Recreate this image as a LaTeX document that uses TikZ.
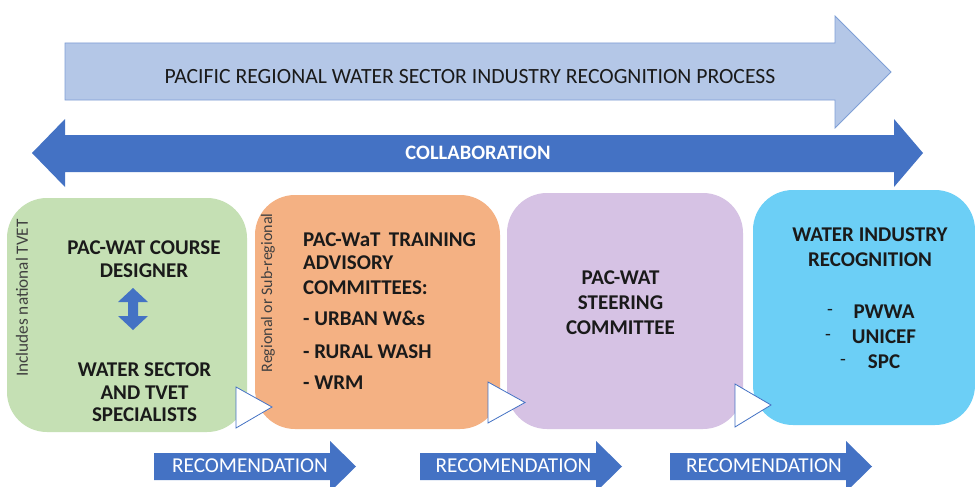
\documentclass[tikz,border=0pt]{standalone}
\usepackage{fontspec}
\setmainfont{Carlito}
\definecolor{toparrow}{HTML}{B4C7E7}
\definecolor{toparrowline}{HTML}{7F9FD6}
\definecolor{darkblue}{HTML}{4472C4}
\definecolor{greenbox}{HTML}{C5E0B4}
\definecolor{orangebox}{HTML}{F4B183}
\definecolor{purplebox}{HTML}{D6C2E4}
\definecolor{bluebox}{HTML}{6CCFF6}
\definecolor{txt}{HTML}{1A1A1A}
\definecolor{graytxt}{HTML}{404040}
\begin{document}
\begin{tikzpicture}[x=1pt,y=-1pt]
\tikzset{
  stagebox/.style={rounded corners=40pt, draw=none, inner sep=0pt},
  boxtxt/.style={font=\bfseries\fontsize{21}{22.5}\selectfont, text=txt, align=center, inner sep=0pt},
  itemtxt/.style={font=\bfseries\fontsize{21}{22}\selectfont, text=txt, anchor=west, inner sep=0pt},
  dashtxt/.style={text=txt, font=\fontsize{19}{19}\selectfont, inner sep=0pt},
  sidetxt/.style={text=graytxt, rotate=90, inner sep=0pt},
  handoff/.style={fill=white, draw=darkblue, line width=0.8pt},
  recarrow/.style={fill=darkblue, draw=none},
  rectxt/.style={text=white, font=\fontsize{21.2}{21}\selectfont, inner sep=0pt}
}
\useasboundingbox (0,0) rectangle (975,487);
\fill[white] (0,0) rectangle (975,487);

% top process arrow
\draw[fill=toparrow, draw=toparrowline, line width=0.8pt]
  (65,43) -- (835,43) -- (835,16) -- (891,72) -- (835,128) -- (835,100) -- (65,100) -- cycle;
\node[text=txt, inner sep=0pt, font=\fontsize{21.7}{21.7}\selectfont] (process) at (470,77)
  {PACIFIC REGIONAL WATER SECTOR INDUSTRY RECOGNITION PROCESS};

% collaboration double arrow
\fill[darkblue]
  (32,153) -- (65,119) -- (65,135) -- (894,135) -- (894,119) -- (923,153)
  -- (894,187) -- (894,172) -- (65,172) -- (65,187) -- cycle;
\node[text=white, inner sep=0pt, font=\bfseries\fontsize{20.5}{20.5}\selectfont] (collab) at (478,153)
  {COLLABORATION};

% stage boxes
\node[stagebox, fill=greenbox, minimum width=240pt, minimum height=234pt] (designer) at (127,315) {};
\node[stagebox, fill=orangebox, minimum width=245pt, minimum height=234pt] (tac) at (377.5,312) {};
\node[stagebox, fill=purplebox, minimum width=236pt, minimum height=236pt] (steering) at (625,311) {};
\node[stagebox, fill=bluebox, minimum width=222pt, minimum height=235pt] (recog) at (864,307.5) {};

% green box content
\node[sidetxt, font=\fontsize{17.2}{17.2}\selectfont] (natl) at (22,298) {Includes national TVET};
\node[boxtxt] (course) at (144,259) {PAC-WAT COURSE\\DESIGNER};
\fill[darkblue] (133,288) -- (148,302) -- (138,302) -- (138,316) -- (148,316) -- (133,330)
  -- (118,316) -- (128,316) -- (128,302) -- (118,302) -- cycle;
\node[boxtxt] (specialists) at (144.5,392.5) {WATER SECTOR\\AND TVET\\SPECIALISTS};

% orange box content
\node[sidetxt, font=\fontsize{16}{16}\selectfont] (regional) at (268,293) {Regional or Sub-regional};
\node[itemtxt] (tac1) at (303,240) {PAC-WaT\hspace{0.4em}TRAINING};
\node[itemtxt] (tac2) at (303,263) {ADVISORY};
\node[itemtxt] (tac3) at (303,288) {COMMITTEES:};
\node[itemtxt] (tac4) at (303,318) {- URBAN W\&s};
\node[itemtxt] (tac5) at (303,352) {- RURAL WASH};
\node[itemtxt] (tac6) at (303,383) {- WRM};

% purple box content
\node[boxtxt, font=\bfseries\fontsize{21}{25}\selectfont] (sc) at (620.5,303) {PAC-WAT\\STEERING\\COMMITTEE};

% blue box content
\node[boxtxt, font=\bfseries\fontsize{21}{25}\selectfont] (wir) at (870,247.5) {WATER INDUSTRY\\RECOGNITION};
\node[boxtxt] (pwwa) at (884,312) {PWWA};
\node[boxtxt] (unicef) at (884,337) {UNICEF};
\node[boxtxt] (spc) at (884,362) {SPC};
\node[dashtxt] (d1) at (830,312) {-};
\node[dashtxt] (d2) at (828,337) {-};
\node[dashtxt] (d3) at (843,362) {-};

% hand-off triangles
\draw[handoff] (236,387) -- (272,407) -- (236,428) -- cycle;
\draw[handoff] (488,382) -- (525,402.5) -- (488,423) -- cycle;
\draw[handoff] (735,384) -- (771,405) -- (735,427) -- cycle;

% recommendation arrows
\fill[recarrow] (154,453) -- (330,453) -- (330,441) -- (356,466.5) -- (330,492) -- (330,480) -- (154,480) -- cycle;
\node[rectxt] (rec1) at (250,466) {RECOMENDATION};
\fill[recarrow] (420,453) -- (596,453) -- (596,441) -- (622,466.5) -- (596,492) -- (596,480) -- (420,480) -- cycle;
\node[rectxt] (rec2) at (513.5,466) {RECOMENDATION};
\fill[recarrow] (670,453) -- (846,453) -- (846,441) -- (872,466.5) -- (846,492) -- (846,480) -- (670,480) -- cycle;
\node[rectxt] (rec3) at (764,466) {RECOMENDATION};
\end{tikzpicture}
\end{document}
